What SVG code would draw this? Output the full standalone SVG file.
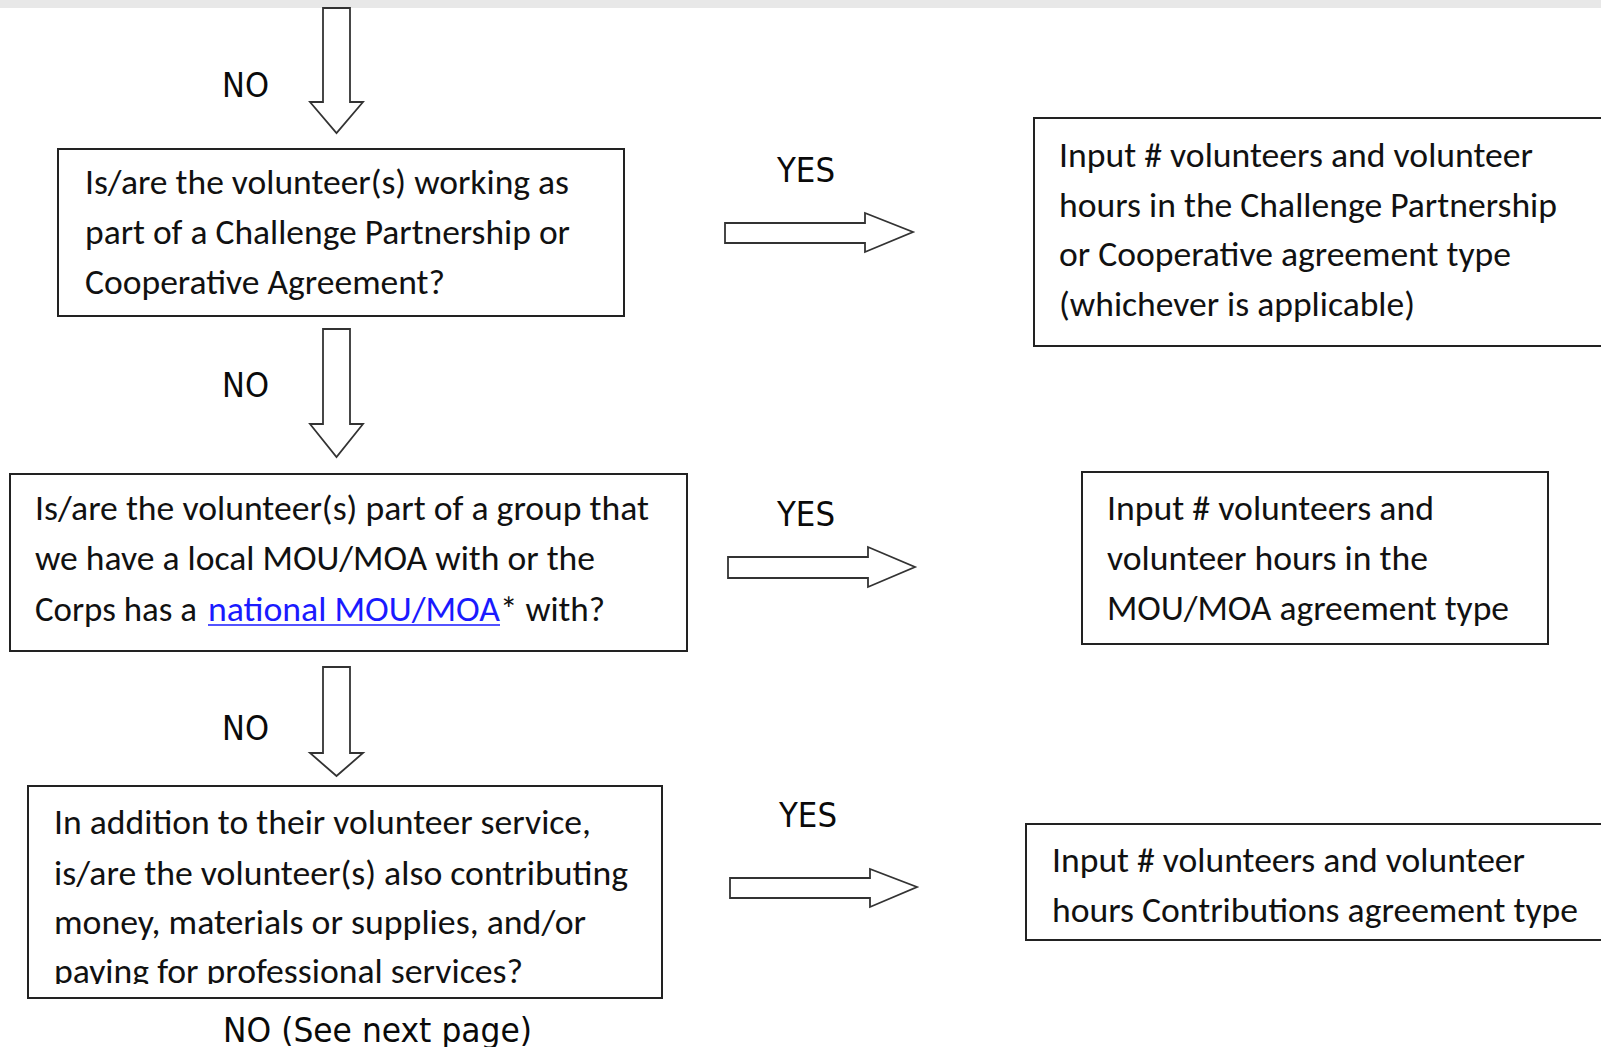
<svg xmlns="http://www.w3.org/2000/svg" width="1601" height="1047" viewBox="0 0 1601 1047">
<style>
.box{fill:#fff;stroke:#222;stroke-width:2}
.arr{fill:#fff;stroke:#333;stroke-width:1.8;stroke-linejoin:miter}
.t{font-family:Carlito,Lato,"Liberation Sans",sans-serif;font-size:34px;fill:#111}
.lbl{font-family:"DejaVu Sans","Liberation Sans",sans-serif;font-size:33.5px;fill:#0a0a0a}
.link{fill:#1a1aff}
</style>
<defs>
<clipPath id="c5"><rect x="28" y="786" width="634" height="198"/></clipPath>
</defs>
<rect x="0" y="0" width="1601" height="8" fill="#e8e8e8"/>
<g id="connectors">
<path class="arr" d="M323,8 L350,8 L350,102 L363,102 L336.5,133 L310,102 L323,102 Z"/>
<path class="arr" d="M323,329 L350,329 L350,424 L363,424 L336.5,457 L310,424 L323,424 Z"/>
<path class="arr" d="M323,667 L350,667 L350,753 L363,753 L336.5,776 L310,753 L323,753 Z"/>
<path class="arr" d="M725,223 L865,223 L865,213 L913,232 L865,252 L865,243 L725,243 Z"/>
<path class="arr" d="M728,557 L868,557 L868,547 L915,567 L868,587 L868,578 L728,578 Z"/>
<path class="arr" d="M730,878 L870,878 L870,869 L917,887 L870,907 L870,898 L730,898 Z"/>
<text class="lbl" x="222" y="97" textLength="47" lengthAdjust="spacingAndGlyphs">NO</text>
<text class="lbl" x="222" y="397" textLength="47" lengthAdjust="spacingAndGlyphs">NO</text>
<text class="lbl" x="222" y="740" textLength="47" lengthAdjust="spacingAndGlyphs">NO</text>
<text class="lbl" x="777" y="182" textLength="58" lengthAdjust="spacingAndGlyphs">YES</text>
<text class="lbl" x="777" y="526" textLength="58" lengthAdjust="spacingAndGlyphs">YES</text>
<text class="lbl" x="779" y="827" textLength="58" lengthAdjust="spacingAndGlyphs">YES</text>
<text class="lbl" x="223" y="1042" textLength="309" lengthAdjust="spacingAndGlyphs">NO (See next page)</text>
</g>
<g id="q1">
<rect class="box" x="58" y="149" width="566" height="167"/>
<text class="t" x="85" y="194" textLength="484" lengthAdjust="spacingAndGlyphs">Is/are the volunteer(s) working as</text>
<text class="t" x="85" y="244" textLength="485" lengthAdjust="spacingAndGlyphs">part of a Challenge Partnership or</text>
<text class="t" x="85" y="294" textLength="360" lengthAdjust="spacingAndGlyphs">Cooperative Agreement?</text>
</g>
<g id="r1">
<rect class="box" x="1034" y="118" width="580" height="228"/>
<text class="t" x="1059" y="167" textLength="474" lengthAdjust="spacingAndGlyphs">Input # volunteers and volunteer</text>
<text class="t" x="1059" y="217" textLength="498" lengthAdjust="spacingAndGlyphs">hours in the Challenge Partnership</text>
<text class="t" x="1059" y="266" textLength="452" lengthAdjust="spacingAndGlyphs">or Cooperative agreement type</text>
<text class="t" x="1059" y="316" textLength="356" lengthAdjust="spacingAndGlyphs">(whichever is applicable)</text>
</g>
<g id="q2">
<rect class="box" x="10" y="474" width="677" height="177"/>
<text class="t" x="35" y="520" textLength="614" lengthAdjust="spacingAndGlyphs">Is/are the volunteer(s) part of a group that</text>
<text class="t" x="35" y="570" textLength="560" lengthAdjust="spacingAndGlyphs">we have a local MOU/MOA with or the</text>
<text class="t" x="35" y="621" textLength="162" lengthAdjust="spacingAndGlyphs">Corps has a</text>
<text class="t link" x="208" y="621" textLength="292" lengthAdjust="spacingAndGlyphs">national MOU/MOA</text>
<line x1="208" y1="625" x2="500" y2="625" stroke="#1a1aff" stroke-width="1.6"/>
<text class="t" x="500" y="621" textLength="105" lengthAdjust="spacingAndGlyphs">* with?</text>
</g>
<g id="r2">
<rect class="box" x="1082" y="472" width="466" height="172"/>
<text class="t" x="1107" y="520" textLength="327" lengthAdjust="spacingAndGlyphs">Input # volunteers and</text>
<text class="t" x="1107" y="570" textLength="321" lengthAdjust="spacingAndGlyphs">volunteer hours in the</text>
<text class="t" x="1107" y="620" textLength="402" lengthAdjust="spacingAndGlyphs">MOU/MOA agreement type</text>
</g>
<g id="q3">
<rect class="box" x="28" y="786" width="634" height="212"/>
<g clip-path="url(#c5)">
<text class="t" x="54" y="834" textLength="537" lengthAdjust="spacingAndGlyphs">In addition to their volunteer service,</text>
<text class="t" x="54" y="885" textLength="574" lengthAdjust="spacingAndGlyphs">is/are the volunteer(s) also contributing</text>
<text class="t" x="54" y="934" textLength="532" lengthAdjust="spacingAndGlyphs">money, materials or supplies, and/or</text>
<text class="t" x="54" y="983" textLength="469" lengthAdjust="spacingAndGlyphs">paying for professional services?</text>
</g>
</g>
<g id="r3">
<rect class="box" x="1026" y="824" width="590" height="116"/>
<text class="t" x="1052" y="872" textLength="473" lengthAdjust="spacingAndGlyphs">Input # volunteers and volunteer</text>
<text class="t" x="1052" y="922" textLength="526" lengthAdjust="spacingAndGlyphs">hours Contributions agreement type</text>
</g>
</svg>
